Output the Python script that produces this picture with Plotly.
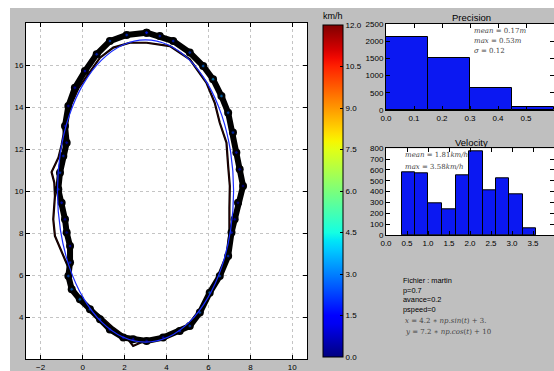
import plotly.graph_objects as go

# ---------------- data ----------------
# thick recorded loop (x, y in metres) read from the picture
thick_x = [3.05, 2.10, 1.30, 0.67, 0.11, -0.37, -0.68, -0.84, -0.76, -0.92, -1.08, -1.16,
           -1.00, -0.84, -0.76, -0.60, -0.60, -0.68, -0.52, -0.13, 0.35, 0.83, 1.30, 1.94,
           2.41, 3.05, 3.84, 4.63, 5.11, 5.59, 6.06, 6.54, 6.94, 7.10, 7.25, 7.41, 7.65,
           7.49, 7.33, 7.17, 6.94, 6.62, 6.22, 5.75, 5.11, 4.32, 3.68, 3.05]
thick_y = [17.54, 17.43, 17.14, 16.51, 15.71, 14.92, 14.05, 13.10, 12.30, 11.67, 10.87, 10.08,
           9.44, 8.65, 8.02, 7.38, 6.59, 5.95, 5.32, 4.84, 4.37, 3.89, 3.41, 3.02,
           2.94, 2.86, 3.02, 3.33, 3.57, 4.21, 5.16, 5.95, 6.90, 8.02, 8.65, 9.44, 10.24,
           11.03, 11.83, 12.78, 13.73, 14.52, 15.32, 15.95, 16.59, 17.14, 17.38, 17.54]
thick_speed = [1.8, 2.1, 2.4, 2.0, 1.6, 1.2, 0.9, 0.7, 1.1, 1.9, 2.3, 2.2,
               1.7, 0.8, 0.6, 1.4, 2.0, 2.6, 2.9, 3.1, 2.5, 2.2, 1.9, 1.5,
               1.0, 0.7, 1.3, 2.0, 2.4, 2.8, 3.0, 2.7, 2.1, 1.8, 0.9, 0.6, 0.5,
               1.2, 1.7, 2.2, 2.6, 3.2, 3.5, 2.9, 2.3, 2.0, 1.9, 1.8]

# thin recorded loop
thin_x = [3.05, 2.25, 1.46, 0.83, 0.30, -0.20, -0.60, -0.85, -1.00, -1.15, -1.48, -1.35,
          -1.32, -1.40, -1.32, -1.00, -0.70, -0.55, -0.20, 0.30, 0.83, 1.46, 2.10, 2.41,
          2.80, 3.50, 4.30, 5.00, 5.60, 6.10, 6.60, 6.90, 7.00, 7.00, 7.02, 6.94, 6.86,
          6.54, 6.30, 5.90, 5.11, 4.16, 3.05]
thin_y = [17.06, 17.06, 16.83, 16.35, 15.60, 14.90, 14.00, 13.00, 12.20, 11.60, 10.90, 10.40,
          9.76, 8.65, 7.86, 7.06, 6.40, 5.60, 4.95, 4.45, 4.05, 3.49, 3.02, 2.62,
          2.80, 2.95, 3.15, 3.60, 4.30, 5.20, 6.10, 7.00, 8.00, 9.20, 10.24, 11.19, 12.30,
          13.25, 14.20, 15.16, 16.27, 16.90, 17.06]

# reference ellipse points
ref_x = [3.0, 4.087, 5.1, 5.970, 6.637, 7.057, 7.2, 7.057, 6.637, 5.970, 5.1, 4.087, 3.0,
         1.913, 0.9, 0.030, -0.637, -1.057, -1.2, -1.057, -0.637, 0.030, 0.9, 1.913, 3.0]
ref_y = [17.2, 16.955, 16.235, 15.091, 13.6, 11.863, 10.0, 8.137, 6.4, 4.909, 3.765, 3.045, 2.8,
         3.045, 3.765, 4.909, 6.4, 8.137, 10.0, 11.863, 13.6, 15.091, 16.235, 16.955, 17.2]

# precision histogram
prec_edges = [0.0, 0.15, 0.30, 0.45, 0.60]
prec_counts = [2130, 1520, 640, 75]

# velocity histogram
vel_edges = [0.37, 0.69, 1.01, 1.33, 1.66, 1.98, 2.30, 2.62, 2.94, 3.26, 3.58]
vel_counts = [580, 570, 295, 240, 555, 775, 410, 525, 380, 58]

speed_ticks = [0.0, 1.5, 3.0, 4.5, 6.0, 7.5, 9.0, 10.5, 12.0]
main_xticks = [-2, 0, 2, 4, 6, 8, 10]
main_yticks = [4, 6, 8, 10, 12, 14, 16]
prec_xticks = [0.0, 0.1, 0.2, 0.3, 0.4, 0.5, 0.6]
prec_yticks = [0, 500, 1000, 1500, 2000, 2500]
vel_xticks = [0.0, 0.5, 1.0, 1.5, 2.0, 2.5, 3.0, 3.5, 4.0]
vel_yticks = [0, 100, 200, 300, 400, 500, 600, 700, 800]

info_lines = ["Fichier : martin", "p=0.7", "avance=0.2", "pspeed=0"]

# ---------------- styling ----------------
W, H = 554, 371
def px(x):
    return x / W
def py(y):
    return 1 - y / H

def jet(v):
    def interp(pts, v):
        for (a, ya), (b, yb) in zip(pts[:-1], pts[1:]):
            if a <= v <= b:
                return ya + (yb - ya) * (v - a) / (b - a) if b > a else yb
        return pts[-1][1]
    r = interp([(0, 0), (0.35, 0), (0.66, 1), (0.89, 1), (1, 0.5)], v)
    g = interp([(0, 0), (0.125, 0), (0.375, 1), (0.64, 1), (0.91, 0), (1, 0)], v)
    b = interp([(0, 0.5), (0.11, 1), (0.34, 1), (0.65, 0), (1, 0)], v)
    return "rgb(%d,%d,%d)" % (round(r * 255), round(g * 255), round(b * 255))

jet_scale = [[i / 40, jet(i / 40)] for i in range(41)]

SANS = "Liberation Sans, Arial, sans-serif"
SERIF = "DejaVu Serif, serif"
BAR = "#0b18f2"
GRAY = "#bfbfbf"

fig = go.Figure()

# main plot traces
fig.add_trace(go.Scatter(x=thin_x, y=thin_y, mode="lines",
                         line=dict(color="black", width=2.2), xaxis="x", yaxis="y",
                         showlegend=False, hoverinfo="skip"))
fig.add_trace(go.Scatter(x=thin_x, y=thin_y, mode="lines",
                         line=dict(color="#5a0000", width=0.5), xaxis="x", yaxis="y",
                         showlegend=False, hoverinfo="skip"))
fig.add_trace(go.Scatter(x=thick_x, y=thick_y, mode="lines+markers",
                         line=dict(color="black", width=6),
                         marker=dict(color="black", size=8),
                         xaxis="x", yaxis="y", showlegend=False, hoverinfo="skip"))
fig.add_trace(go.Scatter(
    x=thick_x, y=thick_y, mode="markers", xaxis="x", yaxis="y", showlegend=False,
    marker=dict(size=3.5, color=thick_speed, cmin=0, cmax=12, colorscale=jet_scale,
                opacity=0.6, line=dict(color="black", width=0.8),
                colorbar=dict(x=px(323), xanchor="left", y=py(191), yanchor="middle",
                              len=332 / H, lenmode="fraction", thickness=20,
                              thicknessmode="pixels", outlinewidth=1, outlinecolor="black",
                              tickvals=speed_ticks,
                              ticktext=["%.1f" % v for v in speed_ticks],
                              ticks="inside", ticklen=3, tickcolor="black",
                              tickfont=dict(family=SANS, size=8, color="black"),
                              xpad=0, ypad=0))))
fig.add_trace(go.Scatter(x=ref_x, y=ref_y, mode="lines", line=dict(color="#1a2cff", width=1.2,
                         shape="spline"), xaxis="x", yaxis="y", showlegend=False,
                         hoverinfo="skip"))

# precision histogram
fig.add_trace(go.Bar(
    x=[(a + b) / 2 for a, b in zip(prec_edges[:-1], prec_edges[1:])],
    y=prec_counts, width=[b - a for a, b in zip(prec_edges[:-1], prec_edges[1:])],
    marker=dict(color=BAR, line=dict(color="black", width=1)),
    xaxis="x2", yaxis="y2", showlegend=False))

# velocity histogram
fig.add_trace(go.Bar(
    x=[(a + b) / 2 for a, b in zip(vel_edges[:-1], vel_edges[1:])],
    y=vel_counts, width=[b - a for a, b in zip(vel_edges[:-1], vel_edges[1:])],
    marker=dict(color=BAR, line=dict(color="black", width=1)),
    xaxis="x3", yaxis="y3", showlegend=False))

tickfont = dict(family=SANS, size=8, color="black")
ax_common = dict(showline=True, linecolor="black", linewidth=1, mirror="ticks",
                 ticks="inside", ticklen=4, tickcolor="black", tickfont=tickfont,
                 zeroline=False, automargin=False)

def note(text, x, y, font, xanchor="center", yanchor="middle", align="center"):
    return dict(text=text, x=px(x), y=py(y), xref="paper", yref="paper",
                xanchor=xanchor, yanchor=yanchor, align=align, showarrow=False, font=font)

annotations = []
annotations.append(note("km/h", 333, 16, dict(family=SANS, size=9, color="black")))
annotations.append(note("Precision", 471, 18, dict(family=SANS, size=9.5, color="black")))
annotations.append(note("Velocity", 471, 142, dict(family=SANS, size=9.5, color="black")))

serif_font = dict(family=SERIF, size=7, color="#444444")
for txt, yy in [("<i>mean</i> = 0.17<i>m</i>", 30.7), ("<i>max</i> = 0.53<i>m</i>", 40.7),
                ("<i>σ</i> = 0.12", 50.7)]:
    annotations.append(note(txt, 472, yy, serif_font, xanchor="left"))
for txt, yy in [("<i>mean</i> = 1.81<i>km/h</i>", 155), ("<i>max</i> = 3.58<i>km/h</i>", 166.7)]:
    annotations.append(note(txt, 403, yy, serif_font, xanchor="left"))
annotations.append(note("<br>".join(info_lines), 401, 273.5,
                        dict(family=SANS, size=7.4, color="black"),
                        xanchor="left", yanchor="top", align="left"))
for txt, yy in [("<i>x</i> = 4.2 ∗ <i>np.sin</i>(<i>t</i>) + 3.", 321),
                ("<i>y</i> = 7.2 ∗ <i>np.cos</i>(<i>t</i>) + 10", 331.7)]:
    annotations.append(note(txt, 403, yy, serif_font, xanchor="left"))

GRID = "#c4c4c4"
fig.update_layout(
    width=W, height=H, margin=dict(l=0, r=0, t=0, b=0, autoexpand=False),
    paper_bgcolor=GRAY, plot_bgcolor="white",
    bargap=0,
    shapes=[dict(type="rect", xref="paper", yref="paper", x0=0, x1=1, y0=py(8), y1=1,
                 fillcolor="white", line=dict(width=0), layer="below"),
            dict(type="rect", xref="paper", yref="paper", x0=0, x1=px(10), y0=0, y1=1,
                 fillcolor="white", line=dict(width=0), layer="below")],
    xaxis=dict(domain=[px(26), px(307)], range=[-2.7, 10.7], tickvals=main_xticks,
               showgrid=True, gridcolor=GRID, griddash="dot", gridwidth=1,
               anchor="y", **ax_common),
    yaxis=dict(domain=[py(359), py(23)], range=[2.0, 18.0], tickvals=main_yticks,
               showgrid=True, gridcolor=GRID, griddash="dot", gridwidth=1,
               anchor="x", **ax_common),
    xaxis2=dict(domain=[px(386), 1.0], range=[0, 0.6], tickvals=prec_xticks,
                tickformat=".1f", showgrid=False, anchor="y2", **ax_common),
    yaxis2=dict(domain=[py(110), py(24)], range=[0, 2500], tickvals=prec_yticks,
                showgrid=False, anchor="x2", **ax_common),
    xaxis3=dict(domain=[px(386), 1.0], range=[0, 4.0], tickvals=vel_xticks,
                tickformat=".1f", showgrid=False, anchor="y3", **ax_common),
    yaxis3=dict(domain=[py(235), py(148.3)], range=[0, 800], tickvals=vel_yticks,
                showgrid=False, anchor="x3", **ax_common),
    annotations=annotations,
)

fig.write_html("out.html", config={"displayModeBar": False},
               post_script="document.body.style.margin='0';document.body.style.overflow='hidden';")
